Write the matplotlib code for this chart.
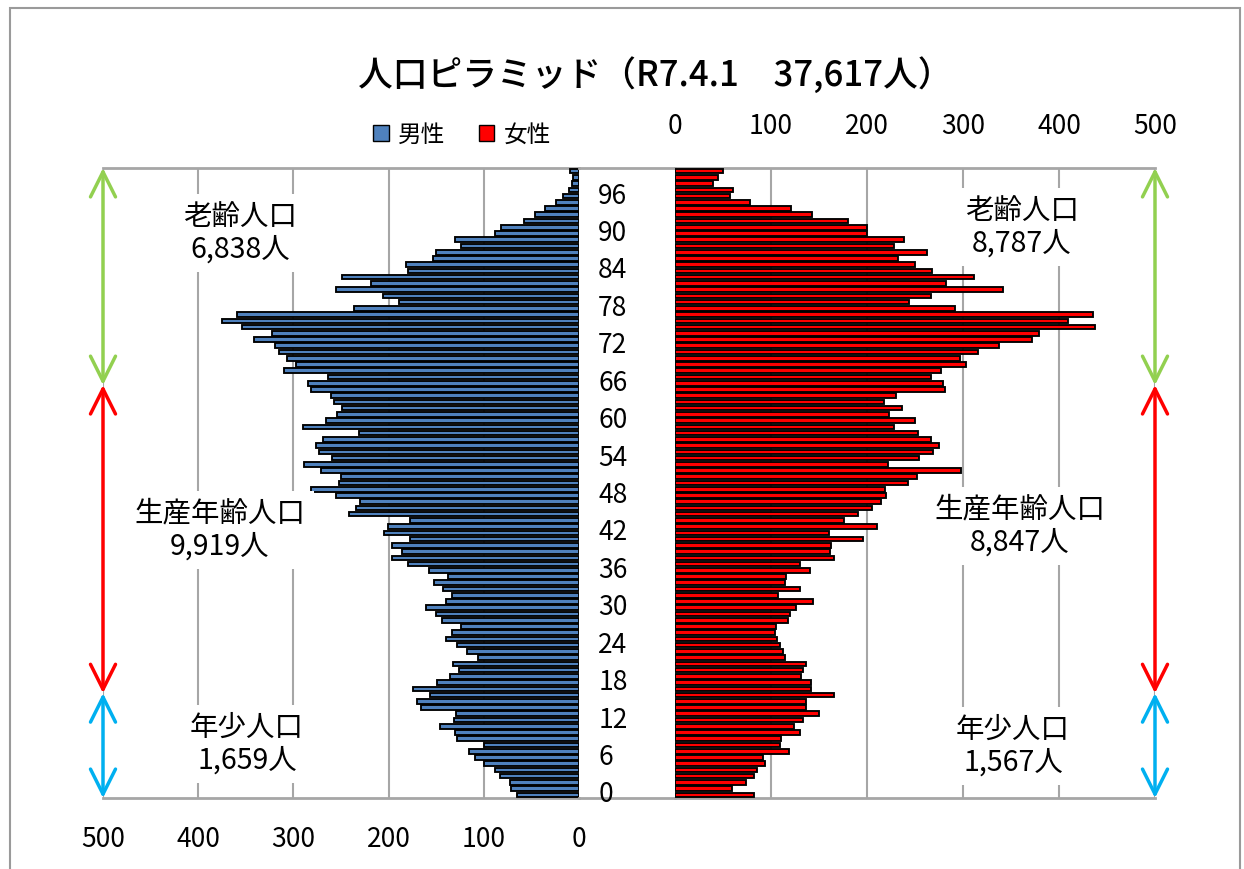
"""Population pyramid (R7.4.1) recreated with matplotlib."""
import matplotlib
matplotlib.use("Agg")
import matplotlib.pyplot as plt
from matplotlib.patches import Patch, Rectangle

plt.rcParams["font.family"] = ["Noto Sans CJK JP", "DejaVu Sans"]

W, H = 1244, 869

ages = list(range(0, 101))
male = [
    65, 71, 73, 83, 88, 100, 109, 116, 100, 128,
    130, 146, 131, 129, 166, 170, 157, 174, 149, 135,
    126, 132, 106, 118, 128, 140, 133, 124, 144, 150,
    161, 140, 133, 143, 152, 138, 158, 180, 196, 186,
    196, 177, 205, 201, 178, 242, 234, 230, 255, 281,
    252, 250, 271, 289, 259, 273, 276, 269, 231, 290,
    266, 254, 249, 257, 261, 282, 285, 264, 310, 297,
    307, 315, 319, 341, 323, 354, 375, 359, 236, 189,
    206, 255, 218, 249, 180, 182, 153, 150, 124, 130,
    88, 82, 58, 46, 36, 24, 17, 11, 7, 6,
    9,
]
female = [
    82, 59, 74, 82, 85, 94, 92, 119, 109, 110,
    130, 124, 133, 150, 136, 136, 166, 142, 142, 131,
    133, 136, 115, 112, 109, 106, 104, 105, 118, 120,
    126, 144, 107, 130, 115, 116, 141, 130, 166, 161,
    163, 196, 160, 210, 176, 191, 205, 215, 220, 219,
    243, 252, 298, 222, 254, 269, 275, 267, 253, 228,
    250, 223, 236, 218, 230, 281, 279, 267, 277, 303,
    297, 316, 338, 372, 379, 438, 409, 435, 292, 244,
    267, 342, 282, 311, 268, 250, 232, 263, 228, 239,
    200, 200, 180, 143, 121, 78, 57, 60, 40, 45,
    50,
]
age_ticks = list(range(0, 97, 6))
value_ticks = [0, 100, 200, 300, 400, 500]

title = "人口ピラミッド（R7.4.1　37,617人）"
series_names = ["男性", "女性"]
group_names = ["老齢人口", "生産年齢人口", "年少人口"]
male_totals = ["6,838人", "9,919人", "1,659人"]
female_totals = ["8,787人", "8,847人", "1,567人"]
# group boundaries as drawn by the arrows (age units)
bounds = [100.5, 65.7, 16.3, -0.5]
arrow_colors = ["#92D050", "#FF0000", "#00B0F0"]

MALE_C = "#4F81BD"
FEMALE_C = "#FF0000"
GRID_C = "#A6A6A6"


def px_axes(x0, y0, x1, y1):
    return [x0 / W, 1 - y1 / H, (x1 - x0) / W, (y1 - y0) / H]


def fx(x):
    return x / W


def fy(y):
    return 1 - y / H


fig = plt.figure(figsize=(W / 100, H / 100), dpi=100)
fig.add_artist(Rectangle((fx(10), fy(895)), fx(1230), 895 / H - 8 / H,
                         transform=fig.transFigure, fill=False,
                         edgecolor="#9a9a9a", lw=1.5))

ax_l = fig.add_axes(px_axes(103, 168, 579, 798))
ax_m = fig.add_axes(px_axes(579, 168, 675, 798))
ax_r = fig.add_axes(px_axes(675, 168, 1155, 798))

for ax in (ax_l, ax_m, ax_r):
    ax.set_ylim(-0.5, 100.5)
    ax.set_yticks([])
    for side in ("left", "right"):
        ax.spines[side].set_visible(False)
    for side in ("top", "bottom"):
        ax.spines[side].set_color(GRID_C)
        ax.spines[side].set_linewidth(2)
    ax.set_facecolor("none")

# male side
ax_l.barh(ages, male, height=0.74, color=MALE_C, edgecolor="black", lw=1.35, zorder=3)
ax_l.set_xlim(500, 0)
ax_l.vlines(value_ticks[1:], -0.5, 100.5, color=GRID_C, lw=1.5, zorder=1)
ax_l.set_xticks(value_ticks)
ax_l.set_xticklabels([str(v) for v in value_ticks])
ax_l.tick_params(axis="x", length=0, pad=20, labelsize=19)

# female side
ax_r.barh(ages, female, height=0.74, color=FEMALE_C, edgecolor="black", lw=1.35, zorder=3)
ax_r.set_xlim(0, 500)
ax_r.vlines(value_ticks[1:], -0.5, 100.5, color=GRID_C, lw=1.5, zorder=1)
ax_r.xaxis.tick_top()
ax_r.set_xticks(value_ticks)
ax_r.set_xticklabels([str(v) for v in value_ticks])
ax_r.tick_params(axis="x", length=0, pad=20, labelsize=19)

# age labels in the middle
ax_m.set_xlim(0, 1)
ax_m.set_xticks([])
for a in age_ticks:
    ax_m.text(0.2, a, str(a), ha="left", va="center", fontsize=19)

# group arrows
for i, col in enumerate(arrow_colors):
    for ax in (ax_l, ax_r):
        ax.annotate("", xy=(500, bounds[i]), xytext=(500, bounds[i + 1]),
                    xycoords="data", annotation_clip=False,
                    arrowprops=dict(arrowstyle="<->,head_length=0.9,head_width=0.45",
                                    color=col, lw=2.5, shrinkA=0, shrinkB=0,
                                    mutation_scale=20))

# group labels
box = dict(facecolor="white", edgecolor="none", pad=6)
left_pos = [(240, 233), (220, 530), (247, 744)]
right_pos = [(1022, 227), (1020, 526), (1013, 746)]
for name, tot, (x, y) in zip(group_names, male_totals, left_pos):
    fig.text(fx(x), fy(y), f"{name}\n{tot}", ha="center", va="center",
             fontsize=20.5, linespacing=1.1, bbox=box)
for name, tot, (x, y) in zip(group_names, female_totals, right_pos):
    fig.text(fx(x), fy(y), f"{name}\n{tot}", ha="center", va="center",
             fontsize=20.5, linespacing=1.1, bbox=box)

fig.text(fx(655), fy(75), title, ha="center", va="center", fontsize=25,
         fontweight="medium")

handles = [Patch(facecolor=MALE_C, edgecolor="black", lw=1),
           Patch(facecolor=FEMALE_C, edgecolor="black", lw=1)]
fig.legend(handles, series_names, loc="center", bbox_to_anchor=(fx(462), fy(135)),
           ncol=2, frameon=False, fontsize=17, handlelength=0.65, handleheight=0.65,
           handletextpad=0.4, columnspacing=1.4)

fig.savefig("out.png", dpi=100)
